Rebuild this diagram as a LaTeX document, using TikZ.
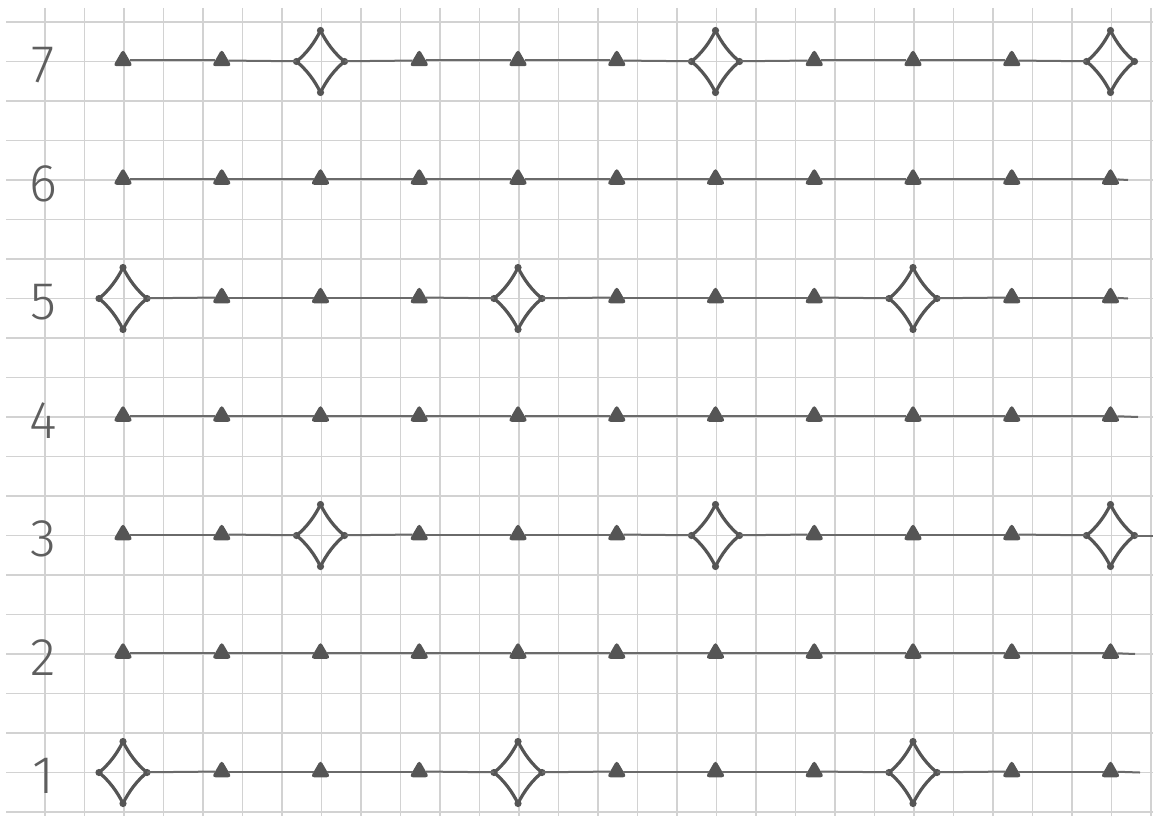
\documentclass[tikz,border=0pt]{standalone}
\usepackage{fontspec}
\newfontfamily\handfont{Fira Sans Light}
\usetikzlibrary{shapes.geometric}
\definecolor{gridc}{HTML}{D2D2D2}
\definecolor{linec}{HTML}{6A6A6A}
\definecolor{markc}{HTML}{555555}
\definecolor{digc}{HTML}{5E5E5E}
\tikzset{
  gridline/.style={draw=gridc, line width=1.2pt},
  rowline/.style={draw=linec, line width=2pt},
  tri/.style={regular polygon, regular polygon sides=3, fill=markc, draw=markc,
    line width=2pt, rounded corners=2pt, inner sep=0pt, minimum size=19pt},
  starnode/.style={inner sep=0pt, minimum width=48pt, minimum height=62pt},
  starline/.style={draw=markc, line width=3.2pt, line join=round},
  stardot/.style={fill=markc},
  digit/.style={inner sep=0pt, text=digc, font=\handfont\fontsize{53}{53}\selectfont}
}
\newcommand\fourstar[1]{%
  \begin{scope}[shift={(#1.center)}]
    \draw[starline] (0,-31) .. controls (6,-18.6) and (14.4,-7.75) .. (24,0)
      .. controls (14.4,7.75) and (6,18.6) .. (0,31)
      .. controls (-6,18.6) and (-14.4,7.75) .. (-24,0)
      .. controls (-14.4,-7.75) and (-6,-18.6) .. (0,-31) -- cycle;
    \fill[stardot] (0,-31) circle (3.6) (24,0) circle (3.6) (0,31) circle (3.6) (-24,0) circle (3.6);
  \end{scope}}
\begin{document}
\begin{tikzpicture}[x=1pt,y=-1pt]
\useasboundingbox (0,0) rectangle (1153,816);
\fill[white] (0,0) rectangle (1153,816);
% grid paper
\foreach \k in {0,...,28} \draw[gridline] (45+39.5*\k,8) -- (45+39.5*\k,816);
\foreach \j in {0,...,20} \draw[gridline] (6,22+39.5*\j) -- (1153,22+39.5*\j);
% row labels
\foreach \r in {1,...,7} {
  \node[digit] (l\r) at (43,{776-(\r-1)*118.5}) {\r};
}
% markers
\foreach \r in {1,...,7} {
  \foreach \c in {1,...,11} {
    \pgfmathtruncatemacro\isstar{((mod(\r,4)==1 && mod(\c,4)==1) || (mod(\r,4)==3 && mod(\c,4)==3)) ? 1 : 0}
    \ifnum\isstar=1
      \node[starnode] (n\r-\c) at ({123+(\c-1)*98.75},{772.5-(\r-1)*118.5}) {};
      \fourstar{n\r-\c}
    \else
      \node[tri] (n\r-\c) at ({123+(\c-1)*98.75},{771.5-(\r-1)*118.5}) {};
    \fi
  }
}
% connectors
\foreach \r in {1,...,7} {
  \foreach \c [evaluate=\c as \d using int(\c+1)] in {1,...,10} {
    \draw[rowline] (n\r-\c) -- (n\r-\d);
  }
}
% free ends of rows
\coordinate (t1) at (1140,772.5);
\coordinate (t2) at (1135,654);
\coordinate (t3) at (1153,535.5);
\coordinate (t4) at (1138,417);
\coordinate (t5) at (1128,298.5);
\coordinate (t6) at (1128,180);
\foreach \r in {1,...,6} \draw[rowline] (n\r-11) -- (t\r);
\end{tikzpicture}
\end{document}
